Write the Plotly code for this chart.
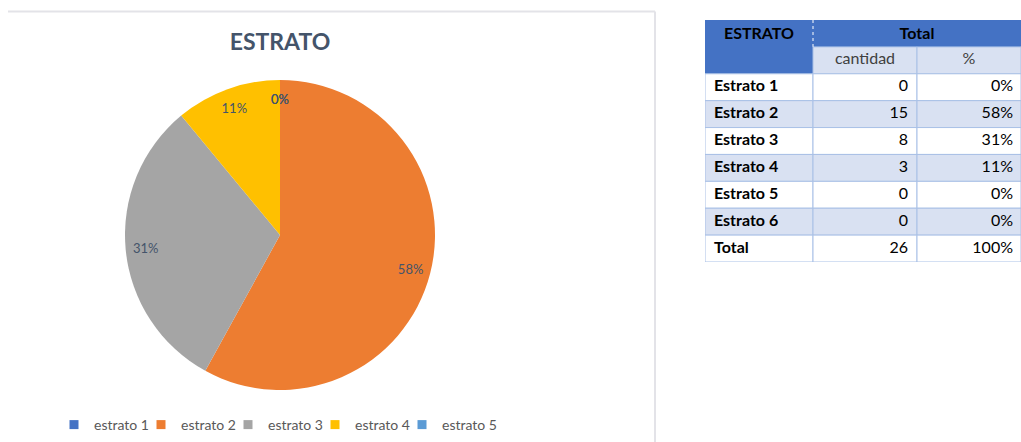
import math
import plotly.graph_objects as go

# Survey results by socio-economic stratum
estratos = ["Estrato 1", "Estrato 2", "Estrato 3", "Estrato 4", "Estrato 5", "Estrato 6"]
cantidad = [0, 15, 8, 3, 0, 0]
porcentaje = [0, 58, 31, 11, 0, 0]
total_cantidad = 26
total_pct = 100

# The pie covers the first five strata
pie_labels = ["estrato 1", "estrato 2", "estrato 3", "estrato 4", "estrato 5"]
pie_values = porcentaje[:5]
pie_colors = ["#4472C4", "#ED7D31", "#A5A5A5", "#FFC000", "#5B9BD5"]

# Table header texts
header_first = "ESTRATO"
header_group = "Total"
header_sub = ["cantidad", "%"]

W, H = 1021, 442
FONT = "Lato"
TITLE_COLOR = "#44546A"
DARK_BLUE = "#4472C4"
LIGHT_BLUE = "#D9E1F2"
GRID_BLUE = "#A9C0E6"

# Pie placement (pixels)
PIE_LEFT, PIE_RIGHT, PIE_TOP, PIE_BOTTOM = 125, 435, 80, 390
LABEL_RADIUS = 0.88  # data labels sit close to the rim

# Table grid: column widths (px) and row count (2 header rows + body + total)
COL_W = [108, 104, 104]
COL_X = [0, COL_W[0], COL_W[0] + COL_W[1], sum(COL_W)]
N_ROWS = 2 + len(estratos) + 1
TABLE_LEFT, TABLE_TOP, TABLE_BOTTOM = 705, 20, 262
PAD = 9


def px_x(x):
    return x / W


def px_y(y):
    return 1 - y / H


pie_domain = dict(x=[px_x(PIE_LEFT), px_x(PIE_RIGHT)], y=[px_y(PIE_BOTTOM), px_y(PIE_TOP)])

fig = go.Figure()

# Filled slices
fig.add_trace(go.Pie(
    labels=pie_labels,
    values=pie_values,
    sort=False,
    direction="clockwise",
    rotation=0,
    marker=dict(colors=pie_colors, line=dict(width=0)),
    textinfo="none",
    domain=pie_domain,
    showlegend=False,
    hoverinfo="label+percent",
))

# Transparent ring carrying the percentage labels near the outer edge
fig.add_trace(go.Pie(
    labels=pie_labels,
    values=pie_values,
    sort=False,
    direction="clockwise",
    rotation=0,
    hole=0.74,
    marker=dict(colors=["rgba(0,0,0,0)"] * len(pie_values), line=dict(width=0)),
    texttemplate="%{percent:.0%}",
    textposition="inside",
    insidetextorientation="horizontal",
    textfont=dict(family=FONT, size=13, color=TITLE_COLOR),
    domain=pie_domain,
    showlegend=False,
    hoverinfo="skip",
))

# Legend entries for the pie categories (small square keys)
for i, (lab, col) in enumerate(zip(pie_labels, pie_colors)):
    fig.add_trace(go.Scatter(
        x=[None], y=[None], mode="markers", name=lab,
        marker=dict(symbol="square", size=9, color=col),
        legendwidth=42 if i < len(pie_labels) - 1 else 64,
        hoverinfo="skip",
    ))

# Zero-valued slices have no area, so their labels are placed at the slice boundary
annotations = []
total = sum(pie_values)
cx = (PIE_LEFT + PIE_RIGHT) / 2
cy = (PIE_TOP + PIE_BOTTOM) / 2
r = (PIE_RIGHT - PIE_LEFT) / 2
cum = 0
for v in pie_values:
    if v == 0:
        ang = 2 * math.pi * cum / total
        annotations.append(dict(
            text=f"{v / total:.0%}",
            x=px_x(cx + LABEL_RADIUS * r * math.sin(ang)),
            y=px_y(cy - LABEL_RADIUS * r * math.cos(ang)),
            xref="paper", yref="paper", xanchor="center", yanchor="middle",
            showarrow=False, font=dict(family=FONT, size=13, color=TITLE_COLOR),
        ))
    cum += v

# ---- Table, drawn on its own hidden axes (x in px columns, y in row units) ----
body_names = estratos + ["Total"]
body_qty = [str(v) for v in cantidad] + [str(total_cantidad)]
body_pct = [f"{v}%" for v in porcentaje] + [f"{total_pct}%"]
body_fill = ["white" if i % 2 == 0 else LIGHT_BLUE for i in range(len(estratos))] + ["white"]

shapes = []


def cell(x0, x1, y0, y1, fill, line=GRID_BLUE):
    shapes.append(dict(type="rect", xref="x", yref="y", x0=x0, x1=x1, y0=y0, y1=y1,
                       fillcolor=fill, line=dict(color=line, width=1), layer="below"))


# header
cell(COL_X[0], COL_X[1], 0, 2, DARK_BLUE, DARK_BLUE)
cell(COL_X[1], COL_X[3], 0, 1, DARK_BLUE, DARK_BLUE)
cell(COL_X[1], COL_X[2], 1, 2, LIGHT_BLUE)
cell(COL_X[2], COL_X[3], 1, 2, LIGHT_BLUE)
shapes.append(dict(type="line", xref="x", yref="y", x0=COL_X[1], x1=COL_X[1], y0=0, y1=1,
                   line=dict(color="white", width=1, dash="dot"), layer="below"))
# body
for i, fill in enumerate(body_fill):
    for c in range(3):
        cell(COL_X[c], COL_X[c + 1], 2 + i, 3 + i, fill)

body_y = [2.5 + i for i in range(len(body_names))]

fig.add_trace(go.Scatter(
    x=[PAD] * len(body_names), y=body_y, text=body_names, mode="text",
    textposition="middle right",
    textfont=dict(family=FONT, size=16, color="black", weight="bold"),
    showlegend=False, hoverinfo="skip",
))
fig.add_trace(go.Scatter(
    x=[COL_X[2] - PAD] * len(body_qty), y=body_y, text=body_qty, mode="text",
    textposition="middle left",
    textfont=dict(family=FONT, size=16, color="black"),
    showlegend=False, hoverinfo="skip",
))
fig.add_trace(go.Scatter(
    x=[COL_X[3] - PAD + 1] * len(body_pct), y=body_y, text=body_pct, mode="text",
    textposition="middle left",
    textfont=dict(family=FONT, size=16, color="black"),
    showlegend=False, hoverinfo="skip",
))
fig.add_trace(go.Scatter(
    x=[(COL_X[0] + COL_X[1]) / 2, COL_X[2]], y=[0.55, 0.55],
    text=[header_first, header_group], mode="text", textposition="middle center",
    textfont=dict(family=FONT, size=16, color="black", weight="bold"),
    showlegend=False, hoverinfo="skip",
))
fig.add_trace(go.Scatter(
    x=[(COL_X[1] + COL_X[2]) / 2, (COL_X[2] + COL_X[3]) / 2], y=[1.5, 1.5],
    text=header_sub, mode="text", textposition="middle center",
    textfont=dict(family=FONT, size=16, color="#404040"),
    showlegend=False, hoverinfo="skip",
))

# chart frame
shapes += [
    dict(type="line", xref="paper", yref="paper",
         x0=px_x(8), x1=px_x(655), y0=px_y(11.5), y1=px_y(11.5),
         line=dict(color="#E3E3E8", width=2)),
    dict(type="line", xref="paper", yref="paper",
         x0=px_x(655), x1=px_x(655), y0=-0.05, y1=px_y(11.5),
         line=dict(color="#E3E3E8", width=2)),
]

fig.update_layout(
    width=W,
    height=H,
    margin=dict(l=0, r=0, t=0, b=0),
    paper_bgcolor="white",
    plot_bgcolor="white",
    title=dict(
        text="<b>ESTRATO</b>",
        x=px_x(280), xanchor="center",
        y=px_y(42), yanchor="middle",
        font=dict(family=FONT, size=23, color=TITLE_COLOR),
    ),
    xaxis=dict(domain=[px_x(TABLE_LEFT), px_x(TABLE_LEFT + COL_X[3])], range=[0, COL_X[3]],
               visible=False, fixedrange=True),
    yaxis=dict(domain=[px_y(TABLE_BOTTOM), px_y(TABLE_TOP)], range=[N_ROWS, 0],
               visible=False, fixedrange=True),
    legend=dict(
        orientation="h",
        x=px_x(54), xanchor="left",
        y=px_y(425), yanchor="middle",
        font=dict(family=FONT, size=14, color="#595959"),
        itemwidth=30,
        traceorder="normal",
    ),
    annotations=annotations,
    shapes=shapes,
)

fig.write_html("out.html")
